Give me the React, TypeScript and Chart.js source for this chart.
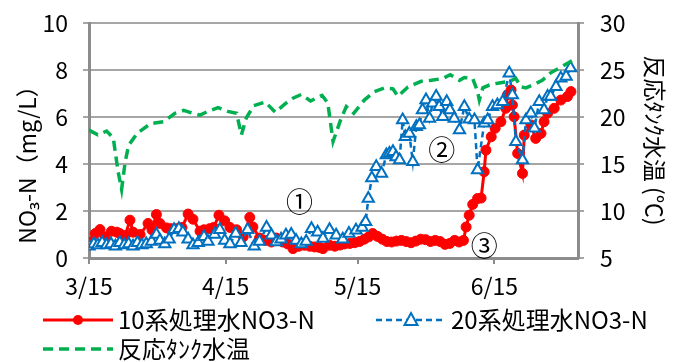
import { useEffect, useRef } from 'react';
import { Chart, registerables } from 'chart.js';

Chart.register(...registerables);

const FONT = "'Noto Sans CJK JP', 'Noto Sans', sans-serif";

// x axis: days since 3/15
const xTickDays = [0, 31, 61, 92];
const xTickLabels = ['3/15', '4/15', '5/15', '6/15'];
const xMaxDay = 111;

const seriesNames = ['10系処理水NO3-N', '20系処理水NO3-N', '反応ﾀﾝｸ水温'];
const leftTitle = 'NO₃-N（mg/L）';
const rightTitle = '反応ﾀﾝｸ水温 (℃)';

// 10系処理水 NO3-N (mg/L)
const redDays = [0, 1.4, 2.5, 3.6, 5.1, 6.3, 7.0, 8.2, 9.3, 10.0, 11.6, 13.4, 14.3, 15.3, 16.1, 17.6, 18.6, 19.9, 21.1, 22.5, 23.6, 25.2, 26.1, 27.4, 28.3, 29.5, 30.8, 32.0, 33.5, 35.0, 36.5, 37.2, 38.7, 40.1, 41.4, 42.5, 44.0, 45.1, 46.3, 47.6, 48.9, 50.1, 51.2, 52.3, 53.1, 54.6, 55.8, 57.0, 58.0, 59.2, 60.3, 61.4, 62.5, 63.5, 64.4, 65.5, 66.6, 67.6, 68.7, 69.8, 70.9, 72.0, 73.1, 74.2, 75.3, 76.4, 77.5, 78.6, 79.7, 80.8, 81.9, 83.0, 84.0, 85.0, 85.6, 86.3, 87.1, 88.2, 89.0, 89.7, 90.1, 91.3, 92.2, 93.5, 94.6, 95.0, 95.8, 96.1, 96.5, 97.3, 98.4, 98.8, 100.3, 101.4, 102.6, 103.3, 104.1, 105.6, 107.1, 108.6, 109.4];
const redValues = [0.68, 1.04, 1.21, 0.9, 1.14, 1.1, 1.04, 0.95, 1.61, 1.1, 1.0, 1.47, 1.2, 1.85, 1.47, 1.28, 1.25, 1.25, 1.3, 1.87, 1.65, 1.14, 1.2, 1.25, 1.3, 1.82, 1.58, 1.3, 1.2, 0.9, 1.73, 1.32, 0.85, 0.75, 0.68, 0.85, 0.68, 0.6, 0.4, 0.5, 0.54, 0.5, 0.47, 0.45, 0.4, 0.54, 0.5, 0.55, 0.6, 0.62, 0.65, 0.7, 0.8, 0.9, 1.04, 0.92, 0.8, 0.7, 0.68, 0.72, 0.75, 0.7, 0.65, 0.72, 0.8, 0.78, 0.7, 0.75, 0.7, 0.58, 0.62, 0.75, 0.68, 0.75, 1.32, 1.82, 2.28, 2.53, 2.55, 3.67, 4.59, 5.16, 5.52, 5.8, 6.37, 6.94, 7.15, 6.51, 6.01, 4.45, 3.6, 5.23, 5.66, 5.09, 5.3, 5.8, 6.16, 6.37, 6.72, 6.87, 7.08];

// 20系処理水 NO3-N (mg/L)
const blueDays = [0, 1.1, 2.0, 3.0, 4.0, 5.0, 6.0, 7.0, 8.0, 9.0, 10.0, 11.0, 12.0, 13.0, 14.2, 15.3, 16.1, 17.2, 18.2, 19.3, 20.4, 21.3, 22.5, 23.6, 24.8, 26.1, 27.0, 28.5, 29.7, 30.8, 32.0, 33.3, 34.5, 36.0, 37.5, 38.7, 40.3, 41.4, 42.5, 43.6, 44.7, 45.9, 47.0, 48.2, 49.3, 50.5, 51.9, 53.1, 54.6, 56.1, 57.6, 59.0, 60.6, 62.0, 62.8, 63.4, 64.2, 65.2, 66.4, 67.5, 68.2, 69.0, 69.7, 70.5, 71.2, 71.8, 72.7, 73.5, 74.3, 75.0, 75.7, 76.5, 77.3, 78.0, 78.8, 79.5, 80.3, 81.2, 81.9, 82.9, 84.1, 85.2, 86.3, 87.5, 88.2, 89.7, 90.5, 91.6, 92.7, 93.9, 95.4, 96.1, 96.9, 98.4, 99.2, 100.3, 101.1, 102.2, 103.3, 104.1, 104.8, 106.0, 107.1, 108.3, 109.3];
const blueValues = [0.5, 0.6, 0.55, 0.65, 0.55, 0.6, 0.5, 0.65, 0.55, 0.6, 0.5, 0.65, 0.55, 0.6, 0.7, 1.0, 0.75, 0.6, 0.8, 1.2, 1.25, 1.1, 0.8, 0.55, 0.65, 0.9, 0.7, 1.0, 1.2, 0.75, 0.6, 1.04, 0.65, 1.2, 0.5, 0.7, 1.3, 0.97, 0.68, 0.8, 0.97, 1.0, 0.75, 0.6, 0.7, 1.25, 1.1, 0.83, 1.2, 0.97, 0.8, 1.04, 1.18, 1.3, 1.54, 2.53, 3.4, 3.88, 3.6, 4.38, 4.45, 4.52, 4.3, 4.17, 5.87, 5.16, 5.3, 4.1, 5.59, 5.66, 6.3, 6.72, 5.94, 6.58, 6.87, 6.44, 6.01, 6.65, 6.3, 5.94, 5.45, 6.44, 5.9, 5.87, 3.74, 5.73, 5.87, 6.44, 6.51, 6.65, 7.86, 6.94, 4.95, 4.17, 5.87, 6.16, 5.52, 6.65, 6.3, 6.87, 6.87, 7.29, 7.65, 7.72, 8.08];

// 反応タンク水温 (°C)
const tempDays = [0, 2, 4, 5.5, 6.6, 7.4, 8.2, 9, 11, 14, 17, 19.5, 21.5, 23.5, 25.2, 27, 29.3, 31.5, 33.5, 34.6, 35.7, 37.4, 40, 42.3, 44.5, 46.3, 48.2, 50.3, 52.9, 54.2, 55.4, 57.2, 58.4, 60.1, 62.5, 64.8, 67.1, 69, 70.1, 72.4, 75.4, 77.7, 80.3, 82, 84.1, 85.2, 87.1, 88.2, 88.6, 89.4, 90.9, 92.8, 95.4, 96.9, 98, 99.2, 100.7, 102.9, 104.8, 107.5, 109.7];
const tempValues = [18.6, 18.1, 18.5, 17.8, 14.2, 12.3, 15.2, 17.0, 18.3, 19.3, 19.5, 20.4, 20.7, 20.4, 20.2, 20.6, 21.0, 20.6, 20.4, 18.1, 19.9, 21.2, 21.6, 20.5, 21.4, 22.0, 22.4, 21.7, 22.3, 21.5, 17.4, 19.8, 21.1, 20.4, 21.8, 22.7, 23.1, 23.0, 22.2, 23.2, 23.8, 23.9, 24.1, 24.5, 23.9, 24.2, 24.1, 22.7, 21.8, 23.1, 23.4, 23.6, 23.8, 24.1, 23.2, 23.1, 23.4, 23.9, 24.7, 25.4, 26.0];

// circled annotation labels, anchored in data coordinates (day, mg/L)
const noteLabels = ['①', '②', '③'];
const noteDays = [47.8, 80.1, 89.7];
const noteValues = [2.39, 4.6, 0.54];

const RED = '#ff0000';
const BLUE = '#0070c0';
const GREEN = '#00b050';
const GRID = '#a6a6a6';
const AXIS = '#8c8c8c';

const toXY = (xs: number[], ys: number[]) => xs.map((x, i) => ({ x, y: ys[i] }));

const overlayPlugin = {
  id: 'overlay',
  afterDraw(chart: any) {
    const ctx: CanvasRenderingContext2D = chart.ctx;
    const xs = chart.scales.x;
    const ys = chart.scales.y;
    ctx.save();
    ctx.fillStyle = '#000';
    // annotations
    ctx.font = `27px ${FONT}`;
    ctx.textAlign = 'center';
    ctx.textBaseline = 'middle';
    noteLabels.forEach((t, i) => {
      ctx.fillText(t, xs.getPixelForValue(noteDays[i]), ys.getPixelForValue(noteValues[i]));
    });
    // left axis title
    ctx.save();
    ctx.font = `23px ${FONT}`;
    ctx.textAlign = 'center';
    ctx.translate(27, 159);
    ctx.rotate(-Math.PI / 2);
    ctx.fillText(leftTitle, 0, 0);
    ctx.restore();

    // legend
    ctx.font = `24px ${FONT}`;
    ctx.textAlign = 'left';
    ctx.textBaseline = 'middle';
    const row1 = 320;
    const row2 = 349;
    // red
    ctx.strokeStyle = RED;
    ctx.lineWidth = 3;
    ctx.setLineDash([]);
    ctx.beginPath();
    ctx.moveTo(43, row1);
    ctx.lineTo(113, row1);
    ctx.stroke();
    ctx.fillStyle = RED;
    ctx.beginPath();
    ctx.arc(78, row1, 5, 0, Math.PI * 2);
    ctx.fill();
    ctx.fillStyle = '#000';
    ctx.fillText(seriesNames[0], 118, row1);
    // blue
    ctx.strokeStyle = BLUE;
    ctx.lineWidth = 2.5;
    ctx.setLineDash([6, 4]);
    ctx.beginPath();
    ctx.moveTo(376, row1);
    ctx.lineTo(446, row1);
    ctx.stroke();
    ctx.setLineDash([]);
    ctx.fillStyle = '#fff';
    ctx.lineWidth = 2;
    ctx.beginPath();
    ctx.moveTo(411, row1 - 7);
    ctx.lineTo(417.5, row1 + 5);
    ctx.lineTo(404.5, row1 + 5);
    ctx.closePath();
    ctx.fill();
    ctx.stroke();
    ctx.fillStyle = '#000';
    ctx.fillText(seriesNames[1], 451, row1);
    // green
    ctx.strokeStyle = GREEN;
    ctx.lineWidth = 3.5;
    ctx.setLineDash([10, 6]);
    ctx.beginPath();
    ctx.moveTo(43, row2);
    ctx.lineTo(113, row2);
    ctx.stroke();
    ctx.setLineDash([]);
    ctx.fillText(seriesNames[2], 118, row2);
    ctx.restore();
  },
};

export default function App() {
  const canvasRef = useRef<HTMLCanvasElement | null>(null);

  useEffect(() => {
    document.body.style.margin = '0';
    const canvas = canvasRef.current;
    if (!canvas) return;
    const chart = new Chart(canvas, {
      type: 'line',
      data: {
        datasets: [
          {
            label: seriesNames[0],
            data: toXY(redDays, redValues),
            yAxisID: 'y',
            borderColor: RED,
            backgroundColor: RED,
            borderWidth: 3,
            pointStyle: 'circle',
            pointRadius: 5,
            pointBorderWidth: 1,
            pointBackgroundColor: RED,
            pointBorderColor: RED,
            tension: 0,
            order: 3,
          },
          {
            label: seriesNames[1],
            data: toXY(blueDays, blueValues),
            yAxisID: 'y',
            borderColor: BLUE,
            backgroundColor: '#ffffff',
            borderWidth: 2.5,
            borderDash: [6, 4],
            pointStyle: 'triangle',
            pointRadius: 6.5,
            pointBorderWidth: 2,
            pointBackgroundColor: '#ffffff',
            pointBorderColor: BLUE,
            tension: 0,
            order: 2,
          },
          {
            label: seriesNames[2],
            data: toXY(tempDays, tempValues),
            yAxisID: 'y1',
            borderColor: GREEN,
            backgroundColor: GREEN,
            borderWidth: 3.5,
            borderDash: [10, 6],
            pointRadius: 0,
            tension: 0,
            order: 1,
          },
        ],
      },
      options: {
        animation: false,
        responsive: false,
        devicePixelRatio: 1,
        layout: { padding: { top: 23, bottom: 57, left: 0, right: 0 } },
        plugins: {
          legend: { display: false },
          tooltip: { enabled: false },
        },
        scales: {
          x: {
            type: 'linear',
            min: 0,
            max: xMaxDay,
            afterBuildTicks: (scale: any) => {
              scale.ticks = xTickDays.map((v) => ({ value: v }));
            },
            afterFit: (scale: any) => {
              scale.height = 47;
            },
            ticks: {
              autoSkip: false,
              maxRotation: 0,
              padding: 8,
              color: '#000',
              font: { family: FONT, size: 23 },
              callback: (_v: any, i: number) => xTickLabels[i],
            },
            grid: { drawOnChartArea: false, color: AXIS, lineWidth: 2, tickLength: 6 },
            border: { color: AXIS, width: 3 },
          },
          y: {
            position: 'left',
            min: 0,
            max: 10,
            afterFit: (scale: any) => {
              scale.width = 89;
              scale.paddingTop = 0;
              scale.paddingBottom = 0;
            },
            ticks: {
              stepSize: 2,
              padding: 15,
              color: '#000',
              font: { family: FONT, size: 23 },
            },
            grid: { color: GRID, lineWidth: 2, tickLength: 6 },
            border: { color: AXIS, width: 3 },
          },
          y1: {
            position: 'right',
            min: 5,
            max: 30,
            afterFit: (scale: any) => {
              scale.width = 99;
              scale.paddingTop = 0;
              scale.paddingBottom = 0;
            },
            ticks: {
              stepSize: 5,
              padding: 16,
              color: '#000',
              font: { family: FONT, size: 23 },
            },
            grid: { drawOnChartArea: false, color: GRID, lineWidth: 2, tickLength: 6 },
            border: { color: AXIS, width: 3 },
            title: {
              display: true,
              text: rightTitle,
              color: '#000',
              font: { family: FONT, size: 23 },
              padding: { top: 8, bottom: 0 },
            },
          },
        },
      },
      plugins: [overlayPlugin],
    });
    return () => chart.destroy();
  }, []);

  return (
    <div style={{ width: 677, height: 362, background: '#fff' }}>
      <canvas ref={canvasRef} width={677} height={362} style={{ display: 'block' }} />
    </div>
  );
}
